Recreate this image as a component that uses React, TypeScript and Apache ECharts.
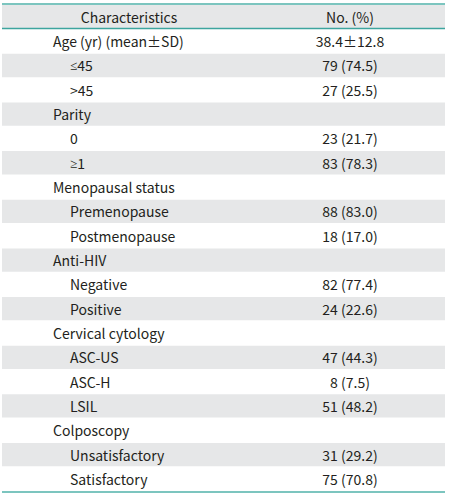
import React, { useEffect, useRef } from "react";
import * as echarts from "echarts";

const headers = ["Characteristics", "No. (%)"];
const labels = [
  "Age (yr) (mean\u00b1SD)", "\u226445", ">45",
  "Parity", "0", "\u22651",
  "Menopausal status", "Premenopause", "Postmenopause",
  "Anti-HIV", "Negative", "Positive",
  "Cervical cytology", "ASC-US", "ASC-H", "LSIL",
  "Colposcopy", "Unsatisfactory", "Satisfactory",
];
const levels = [0, 1, 1, 0, 1, 1, 0, 1, 1, 0, 1, 1, 0, 1, 1, 1, 0, 1, 1];
const values = [
  "38.4\u00b112.8", "79 (74.5)", "27 (25.5)",
  "", "23 (21.7)", "83 (78.3)",
  "", "88 (83.0)", "18 (17.0)",
  "", "82 (77.4)", "24 (22.6)",
  "", "47 (44.3)", "8 (7.5)", "51 (48.2)",
  "", "31 (29.2)", "75 (70.8)",
];

export default function App() {
  const ref = useRef<HTMLDivElement>(null);
  useEffect(() => {
    document.body.style.margin = "0";
    const chart = echarts.init(ref.current!, null, { renderer: "svg" });
    const left = 2, right = 445;
    const top0 = 29, rowH = 24.32;
    const font = "Noto Sans CJK JP";
    const fs = 14;
    const color = "#231f20";
    const els: any[] = [];
    els.push({ type: "rect", shape: { x: left, y: 4, width: right - left, height: 24.5 }, style: { fill: "#e6e7e8" } });
    labels.forEach((lab, i) => {
      const y = top0 + i * rowH;
      if (i % 2 === 1) {
        els.push({ type: "rect", shape: { x: left, y: y + 0.5, width: right - left, height: rowH - 1 }, style: { fill: "#e6e7e8" } });
      }
      const m = lab.match(/^([\u2264\u2265])(.*)$/);
      const txt = m ? `{s|${m[1]}}{n|${m[2]}}` : lab;
      els.push({
        type: "text", x: levels[i] === 0 ? 53 : 70, y: y + rowH / 2,
        style: {
          text: txt, fontFamily: font, fontSize: fs, fill: color, align: "left", verticalAlign: "middle",
          rich: m ? {
            s: { fontFamily: "Noto Sans", fontSize: fs - 1, fill: color },
            n: { fontFamily: font, fontSize: fs, fill: color },
          } : undefined,
        },
      });
      if (values[i]) {
        els.push({
          type: "text", x: 350, y: y + rowH / 2,
          style: { text: values[i], fontFamily: font, fontSize: fs, fill: color, align: "center", verticalAlign: "middle" },
        });
      }
    });
    els.push({
      type: "text", x: 129, y: 16.5,
      style: { text: headers[0], fontFamily: font, fontSize: fs, fill: color, align: "center", verticalAlign: "middle" },
    });
    els.push({
      type: "text", x: 350, y: 16.5,
      style: { text: headers[1], fontFamily: font, fontSize: fs, fill: color, align: "center", verticalAlign: "middle" },
    });
    els.push({ type: "line", shape: { x1: left, y1: 4, x2: right, y2: 4 }, style: { stroke: "#7cc5bf", lineWidth: 2 } });
    els.push({ type: "line", shape: { x1: left, y1: 28.5, x2: right, y2: 28.5 }, style: { stroke: "#3da59e", lineWidth: 1.5 } });
    els.push({ type: "line", shape: { x1: left, y1: 492, x2: right, y2: 492 }, style: { stroke: "#7cc5bf", lineWidth: 2 } });
    chart.setOption({ animation: false, graphic: { elements: els } });
    return () => chart.dispose();
  }, []);
  return <div ref={ref} style={{ width: 450, height: 495 }} />;
}
